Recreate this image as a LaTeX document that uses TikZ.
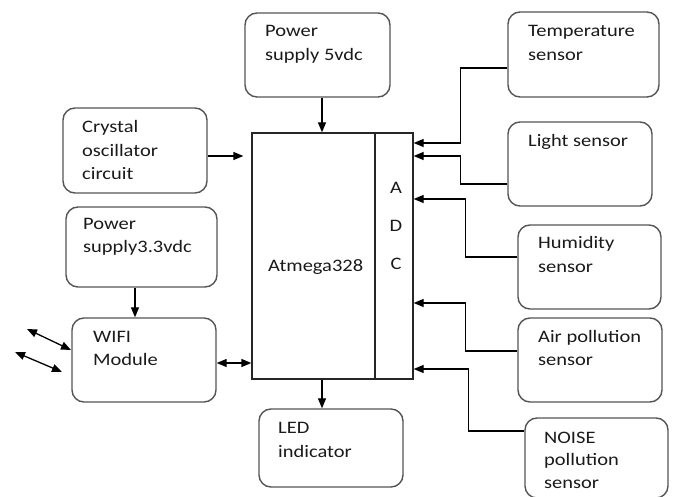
\documentclass[tikz,border=0pt]{standalone}
\usepackage{fontspec}
\setmainfont{Carlito}[FakeStretch=1.17]
\usetikzlibrary{arrows.meta}
\definecolor{boxline}{HTML}{555555}
\definecolor{txt}{HTML}{1A1A1A}
\tikzset{
  box/.style={draw=boxline, line width=1.4pt, rounded corners=12pt, inner sep=0pt},
  sq/.style={draw=black!85, line width=1.3pt, inner sep=0pt},
  lbl/.style={anchor=base west, inner sep=0pt, text=txt, font=\fontsize{17.5}{21}\selectfont},
  clbl/.style={anchor=base, inner sep=0pt, text=txt, font=\fontsize{17.5}{21}\selectfont},
  conn/.style={draw=black, line width=1.3pt, -{Triangle[length=10pt,width=8pt]}},
  dconn/.style={draw=black, line width=1.3pt, {Triangle[length=10pt,width=8pt]}-{Triangle[length=10pt,width=8pt]}},
}
\begin{document}
\begin{tikzpicture}[x=1pt,y=-1pt]
\useasboundingbox[fill=white] (0,0) rectangle (673,497);
% boxes
\node[box, minimum width=145pt, minimum height=84pt] (ps5) at (317.5,55) {};
\node[box, minimum width=151pt, minimum height=85pt] (temp) at (583.5,54.5) {};
\node[box, minimum width=144pt, minimum height=84pt] (light) at (580,164) {};
\node[box, minimum width=143pt, minimum height=84pt] (hum) at (589.5,267) {};
\node[box, minimum width=144pt, minimum height=84pt] (air) at (590,360) {};
\node[box, minimum width=143pt, minimum height=80pt] (noise) at (596.5,458) {};
\node[box, minimum width=144pt, minimum height=85pt] (xtal) at (135,150.5) {};
\node[box, minimum width=151pt, minimum height=80pt] (ps33) at (141.5,247) {};
\node[box, minimum width=144pt, minimum height=84pt] (wifi) at (144,360) {};
\node[box, minimum width=144pt, minimum height=78pt] (led) at (331,448) {};
\node[sq, minimum width=123pt, minimum height=246pt] (atm) at (313.5,256) {};
\node[sq, minimum width=38pt, minimum height=246pt] (adc) at (394,256) {};
% texts
\node[lbl] (t-ps5a) at (265,37) {Power};
\node[lbl] (t-ps5b) at (265,61) {supply 5vdc};
\node[lbl] (t-tempa) at (528,37) {Temperature};
\node[lbl] (t-tempb) at (528,61) {sensor};
\node[lbl] (t-light) at (528,147) {Light sensor};
\node[lbl] (t-huma) at (538,249) {Humidity};
\node[lbl] (t-humb) at (538,273) {sensor};
\node[lbl] (t-aira) at (538,343) {Air pollution};
\node[lbl] (t-airb) at (538,366) {sensor};
\node[lbl] (t-noisea) at (544,443) {NOISE};
\node[lbl] (t-noiseb) at (544,466) {pollution};
\node[lbl] (t-noisec) at (544,489) {sensor};
\node[lbl] (t-xtala) at (82,133) {Crystal};
\node[lbl] (t-xtalb) at (82,157) {oscillator};
\node[lbl] (t-xtalc) at (82,180) {circuit};
\node[lbl] (t-ps33a) at (83,230) {Power};
\node[lbl] (t-ps33b) at (83,253) {supply3.3vdc};
\node[lbl] (t-wifia) at (93,343) {WIFI};
\node[lbl] (t-wifib) at (93,366) {Module};
\node[lbl] (t-leda) at (278,434) {LED};
\node[lbl] (t-ledb) at (278,457) {indicator};
\node[lbl] (t-atm) at (268,272) {Atmega328};
\node[clbl] (t-a) at (396,194) {A};
\node[clbl] (t-d) at (396,232) {D};
\node[clbl] (t-c) at (396,270) {C};
% connectors
\draw[conn] ([xshift=4.5pt]ps5.south) -- ([xshift=4.5pt]ps5.south |- atm.north);
\draw[conn] ([yshift=-5.5pt]xtal.east) -- ([xshift=-8pt,yshift=-5.5pt]atm.west |- xtal.east);
\draw[conn] ([xshift=-6.5pt]ps33.south) -- ([xshift=-6.5pt]ps33.south |- wifi.north);
\draw[dconn] ([yshift=-3pt]wifi.east) -- ([yshift=-3pt]atm.west |- wifi.east);
\draw[conn] ([xshift=8.5pt]atm.south) -- ([xshift=8.5pt]atm.south |- led.north);
\draw[conn] ([yshift=-13.5pt]temp.west) -- ++(-47,0) |- (adc.east |- 0,143);
\draw[conn] ([yshift=-20pt]light.west) -- ++(-47,0) |- (adc.east |- 0,156);
\draw[conn] ([yshift=10pt]hum.west) -- ++(-52,0) |- (adc.east |- 0,199);
\draw[conn] ([yshift=9pt]air.west) -- ++(-52,0) |- (adc.east |- 0,303);
\draw[conn] ([yshift=27pt]noise.west) -- ++(-56,0) |- (adc.east |- 0,369);
% antenna arrows
\coordinate (ant1a) at (27,329);
\coordinate (ant1b) at (71,350);
\coordinate (ant2a) at (15,352);
\coordinate (ant2b) at (62,372);
\draw[dconn] (ant1a) -- (ant1b);
\draw[dconn] (ant2a) -- (ant2b);
\end{tikzpicture}
\end{document}
